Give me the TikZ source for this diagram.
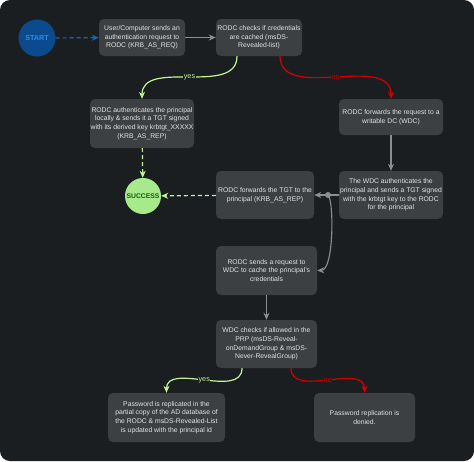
\documentclass[tikz,border=0pt]{standalone}
\usepackage{fontspec}
\setmainfont{Liberation Sans}
\usetikzlibrary{arrows.meta}
\definecolor{bg}{HTML}{1B1E21}
\definecolor{boxc}{HTML}{3D4043}
\definecolor{txt}{HTML}{E2E2E2}
\definecolor{lgray}{HTML}{8E8E8E}
\definecolor{yesc}{HTML}{C2F29A}
\definecolor{noc}{HTML}{D40000}
\definecolor{startfill}{HTML}{0B4A8C}
\definecolor{starttxt}{HTML}{2A8EEA}
\definecolor{succfill}{HTML}{A6EA8C}
\definecolor{succtxt}{HTML}{1D5A0E}
\definecolor{bluedash}{HTML}{1565C0}
\begin{document}
\begin{tikzpicture}[x=1pt,y=-1pt,
  box/.style={fill=boxc, rounded corners=5pt, text=txt, align=center, inner sep=0pt,
    font=\fontsize{6.8}{8.7}\selectfont},
  tip/.style={-{Stealth[length=7pt,width=6pt]}},
  grayline/.style={tip, draw=lgray, line width=1.1pt},
  yesline/.style={tip, draw=yesc, line width=1.2pt},
  noline/.style={tip, draw=noc, line width=1.2pt},
  yeslab/.style={fill=bg, inner sep=0.5pt, text=yesc, font=\fontsize{7.2}{8}\selectfont},
  nolab/.style={fill=bg, inner sep=0.5pt, text=noc, font=\fontsize{7.2}{8}\selectfont},
  dashpat/.style={dash pattern=on 4pt off 3pt}
]
\fill[white] (0,0) rectangle (474,461);
\fill[bg, rounded corners=10pt] (0,0) rectangle (474,461);
\useasboundingbox (0,0) rectangle (474,461);

\node[circle, fill=startfill, minimum size=37pt, inner sep=0pt, text=starttxt,
  font=\fontsize{7.2}{8}\selectfont\bfseries] (start) at (37,38) {START};
\node[box, minimum width=86pt, minimum height=37pt] (b1) at (142,37.5)
  {User/Computer sends an\\authentication request to\\RODC (KRB\_AS\_REQ)};
\node[box, minimum width=86pt, minimum height=37pt] (b2) at (259,37.5)
  {RODC checks if credentials\\are cached (msDS-\\Revealed-list)};
\node[box, minimum width=104pt, minimum height=49pt] (b3) at (142,123.5)
  {RODC authenticates the principal\\locally \& sends it a TGT signed\\with its derived key krbtgt\_XXXXX\\(KRB\_AS\_REP)};
\node[box, minimum width=104pt, minimum height=36pt] (b4) at (391,117)
  {RODC forwards the request to a\\writable DC (WDC)};
\node[circle, fill=succfill, minimum size=36pt, inner sep=0pt, text=succtxt,
  font=\fontsize{6.8}{8}\selectfont\bfseries] (succ) at (143,196) {SUCCESS};
\node[box, minimum width=98pt, minimum height=48pt] (fwd) at (265,195)
  {RODC forwards the TGT to the\\principal (KRB\_AS\_REP)};
\node[box, minimum width=104pt, minimum height=48pt] (wdc) at (391,195)
  {The WDC authenticates the\\principal and sends a TGT signed\\with the krbtgt key to the RODC\\for the principal};
\node[box, minimum width=101pt, minimum height=49pt] (req) at (266.5,270.5)
  {RODC sends a request to\\WDC to cache the principal's\\credentials};
\node[box, minimum width=101pt, minimum height=48pt] (chk) at (266.5,344)
  {WDC checks if allowed in the\\PRP (msDS-Reveal-\\onDemandGroup \& msDS-\\Never-RevealGroup)};
\node[box, minimum width=117pt, minimum height=49pt] (pw) at (166.5,417.5)
  {Password is replicated in the\\partial copy of the AD database of\\the RODC \& msDS-Revealed-List\\is updated with the principal id};
\node[box, minimum width=101pt, minimum height=49pt] (den) at (364.5,417.5)
  {Password replication is\\denied.};

\draw[tip, draw=bluedash, line width=1.2pt, dashpat] (start) -- (b1);
\draw[grayline] (b1) -- (b2);
\draw[yesline] ([xshift=-22pt]b2.south) to[out=-90,in=90] node[yeslab]{yes} (b3.north);
\draw[noline] ([xshift=21pt]b2.south) to[out=-90,in=90] node[nolab]{no} (b4.north);
\draw[yesline, dashpat] (b3) -- (succ);
\draw[grayline] (b4) -- (wdc);
\coordinate (j) at (328,195);
\draw[grayline] (wdc) -- (fwd);
\fill[lgray] (j) circle (3pt);
\draw[grayline] (j) .. controls (334,200) and (334,270) .. (req.east);
\draw[yesline, dashpat] (fwd) -- (succ);
\draw[grayline] (req) -- (chk);
\draw[yesline] ([xshift=-24.5pt]chk.south) to[out=-90,in=90] node[yeslab]{yes} (pw.north);
\draw[noline] ([xshift=24.5pt]chk.south) to[out=-90,in=90] node[nolab]{no} (den.north);
\end{tikzpicture}
\end{document}
